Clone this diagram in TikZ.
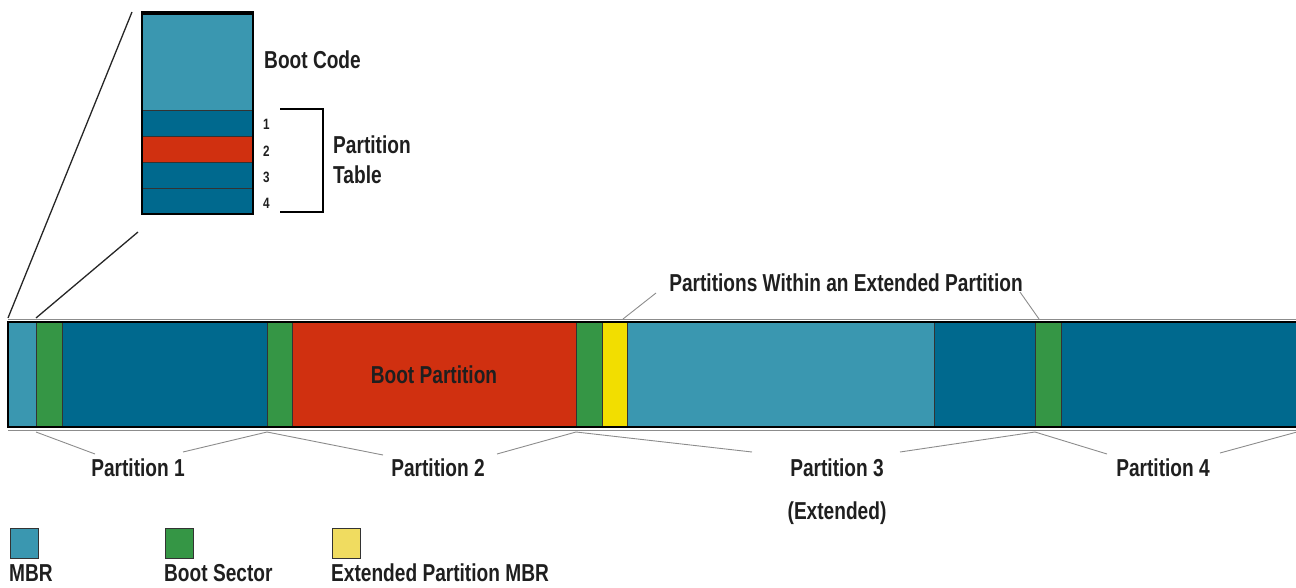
\documentclass[tikz,border=0pt]{standalone}
\usepackage{fontspec}
\setmainfont{Liberation Sans}[FakeStretch=0.78]
\definecolor{lb}{HTML}{3A97B0}
\definecolor{db}{HTML}{00698E}
\definecolor{rd}{HTML}{D03010}
\definecolor{gn}{HTML}{359645}
\definecolor{yl}{HTML}{F2DE00}
\definecolor{ylL}{HTML}{F0DC60}
\begin{document}
\begin{tikzpicture}[x=1pt,y=-1pt,
  seg/.style={draw=black!80,line width=0.8pt,inner sep=0pt,outer sep=0pt,anchor=north west,minimum height=105pt},
  row/.style={draw=black!80,line width=0.8pt,inner sep=0pt,outer sep=0pt,anchor=north west,minimum width=111pt},
  lbl/.style={font=\bfseries\fontsize{24.5}{30}\selectfont,inner sep=0pt,text=black!88},
  small/.style={font=\bfseries\fontsize{15}{17}\selectfont,inner sep=0pt,text=black!88},
  lead/.style={draw=black!45,line width=0.9pt},
  zl/.style={draw=black!85,line width=1.3pt},
  leg/.style={draw=black!80,line width=1pt,inner sep=0pt,minimum width=28pt,minimum height=30pt,anchor=north west}]
\useasboundingbox (0,0) rectangle (1296,588);
% inset
\node[row,fill=lb,minimum height=98pt] (bc) at (142,12) {};
\node[row,fill=db,minimum height=26pt] (r1) at (142,110) {};
\node[row,fill=rd,minimum height=26pt] (r2) at (142,136) {};
\node[row,fill=db,minimum height=26pt] (r3) at (142,162) {};
\node[row,fill=db,minimum height=26pt] (r4) at (142,188) {};
\draw[line width=2pt] (bc.north west) rectangle (r4.south east);
\draw[line width=3pt] ([yshift=-1.5pt]bc.north west) -- ([yshift=-1.5pt]bc.north east);
\node[lbl,anchor=west] (bct) at (264,60) {Boot Code};
\node[small,anchor=west] (n1) at (263,124) {1};
\node[small,anchor=west] (n2) at (263,151) {2};
\node[small,anchor=west] (n3) at (263,177) {3};
\node[small,anchor=west] (n4) at (263,203) {4};
\coordinate (bt) at (280,109);
\coordinate (bb) at (280,212);
\draw[line width=2pt] (bt) -- ++(43,0) |- (bb);
\node[lbl,anchor=west,align=left] (pt) at (333,160) {Partition\\Table};
% main bar
\node[seg,fill=lb,minimum width=28pt] (mbr) at (8,322) {};
\node[seg,fill=gn,minimum width=26pt] (g1) at (mbr.north east) {};
\node[seg,fill=db,minimum width=205pt] (p1) at (g1.north east) {};
\node[seg,fill=gn,minimum width=25pt] (g2) at (p1.north east) {};
\node[seg,fill=rd,minimum width=284pt] (p2) at (g2.north east) {};
\node[seg,fill=gn,minimum width=26pt] (g3) at (p2.north east) {};
\node[seg,fill=yl,minimum width=25pt] (y3) at (g3.north east) {};
\node[seg,fill=lb,minimum width=307pt] (l3) at (y3.north east) {};
\node[seg,fill=db,minimum width=101pt] (d3) at (l3.north east) {};
\node[seg,fill=gn,minimum width=26pt] (g4) at (d3.north east) {};
\node[seg,fill=db,minimum width=236pt] (p4) at (g4.north east) {};
\draw[line width=2.5pt] (mbr.north west) rectangle (p4.south east);
\draw[black!45,line width=1pt] ([yshift=3pt]mbr.north west) -- ([yshift=3pt]p4.north east);
\draw[black!45,line width=1pt] ([yshift=-3pt]mbr.south west) -- ([yshift=-3pt]p4.south east);
\node[lbl] (bp) at (p2.center) {Boot Partition};
% zoom lines
\coordinate (z1) at (132,12);
\coordinate (z2) at (138,232);
\draw[zl] (z1) -- ([yshift=4pt]mbr.north west);
\draw[zl] (z2) -- ([yshift=4pt]g1.north west);
% partition labels
\node[lbl] (pl1) at (138,468) {Partition 1};
\node[lbl] (pl2) at (438,468) {Partition 2};
\node[lbl] (pl3) at (837,468) {Partition 3};
\node[lbl] (pl3e) at (837,513) {(Extended)};
\node[lbl] (pl4) at (1163,468) {Partition 4};
\coordinate (a1) at (95,454);  \coordinate (b1) at (183,452);
\coordinate (a2) at (383,455); \coordinate (b2) at (497,454);
\coordinate (a3) at (752,452); \coordinate (b3) at (900,452);
\coordinate (a4) at (1107,454);\coordinate (b4) at (1220,453);
\draw[lead] ([yshift=-5pt]g1.south west) -- (a1);
\draw[lead] (b1) -- ([yshift=-5pt]g2.south west);
\draw[lead] ([yshift=-5pt]g2.south west) -- (a2);
\draw[lead] (b2) -- ([yshift=-5pt]g3.south west);
\draw[lead] ([yshift=-5pt]g3.south west) -- (a3);
\draw[lead] (b3) -- ([yshift=-5pt]g4.south west);
\draw[lead] ([yshift=-5pt]g4.south west) -- (a4);
\draw[lead] (b4) -- ([yshift=-5pt]p4.south east);
% extended label
\node[lbl] (ext) at (846,283) {Partitions Within an Extended Partition};
\coordinate (e1) at (656,293);
\coordinate (e2) at (1020,292);
\draw[lead] (e1) -- ([xshift=-4pt,yshift=3pt]y3.north east);
\draw[lead] (e2) -- ([xshift=4pt,yshift=3pt]g4.north west);
% legend
\node[leg,fill=lb] (k1) at (10,528) {};
\node[leg,fill=gn] (k2) at (165,528) {};
\node[leg,fill=ylL] (k3) at (332,528) {};
\node[lbl,anchor=base west] (t1) at (9,581) {MBR};
\node[lbl,anchor=base west] (t2) at (164,581) {Boot Sector};
\node[lbl,anchor=base west] (t3) at (331,581) {Extended Partition MBR};
\end{tikzpicture}
\end{document}
